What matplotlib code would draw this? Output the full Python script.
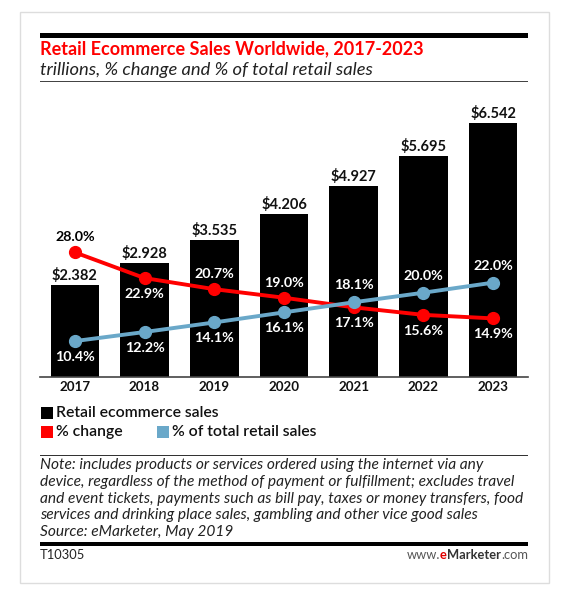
import matplotlib
matplotlib.use('Agg')
import matplotlib.pyplot as plt
from matplotlib.patches import Rectangle

# ---------------- data ----------------
years = ['2017', '2018', '2019', '2020', '2021', '2022', '2023']
sales = [2.382, 2.928, 3.535, 4.206, 4.927, 5.695, 6.542]
pct_change = [28.0, 22.9, 20.7, 19.0, 17.1, 15.6, 14.9]
pct_total = [10.4, 12.2, 14.1, 16.1, 18.1, 20.0, 22.0]
change_label_side = ['above', 'below', 'above', 'above', 'below', 'below', 'below']
total_label_side = ['below', 'below', 'below', 'below', 'above', 'above', 'above']

title = 'Retail Ecommerce Sales Worldwide, 2017-2023'
subtitle = 'trillions, % change and % of total retail sales'
legend_labels = ['Retail ecommerce sales', '% change', '% of total retail sales']
note_lines = [
    'Note: includes products or services ordered using the internet via any',
    'device, regardless of the method of payment or fulfillment; excludes travel',
    'and event tickets, payments such as bill pay, taxes or money transfers, food',
    'services and drinking place sales, gambling and other vice good sales',
    'Source: eMarketer, May 2019',
]
code = 'T10305'

RED = '#ff0000'
BLUE = '#6aa8c9'

W, H = 563, 600
FONT = ['Lato', 'DejaVu Sans']
plt.rcParams['font.family'] = FONT

fig = plt.figure(figsize=(W / 100, H / 100), dpi=100)
fig.patch.set_facecolor('white')
renderer = fig.canvas.get_renderer()


def fx(x):
    return x / W


def fy(y):
    return 1 - y / H


def size_for(text, target, **kw):
    t = fig.text(0, 0, text, fontsize=10, **kw)
    w = t.get_window_extent(renderer).width
    t.remove()
    return 10 * target / w


def text_width(text, fs, **kw):
    t = fig.text(0, 0, text, fontsize=fs, **kw)
    w = t.get_window_extent(renderer).width
    t.remove()
    return w


# ---------------- frame & rules ----------------
fig.patches.append(Rectangle((fx(20), fy(583)), (549 - 20) / W, (583 - 12) / H,
                             transform=fig.transFigure, fill=False,
                             edgecolor='#dddddd', linewidth=1.0))
fig.patches.append(Rectangle((fx(40), fy(37.5)), (528 - 40) / W, 5 / H,
                             transform=fig.transFigure, facecolor='black',
                             edgecolor='none'))
fig.patches.append(Rectangle((fx(40), fy(82)), (528 - 40) / W, 1.5 / H,
                             transform=fig.transFigure, facecolor='#444444',
                             edgecolor='none'))
fig.patches.append(Rectangle((fx(40), fy(456)), (528 - 40) / W, 1.5 / H,
                             transform=fig.transFigure, facecolor='#333333',
                             edgecolor='none'))
fig.patches.append(Rectangle((fx(40), fy(546)), (528 - 40) / W, 4 / H,
                             transform=fig.transFigure, facecolor='black',
                             edgecolor='none'))

# ---------------- titles ----------------
fs_title = size_for(title, 384, fontweight='bold')
fig.text(fx(40), fy(54.5), title, fontsize=fs_title, fontweight='bold',
         color=RED, ha='left', va='baseline')
fs_sub = size_for(subtitle, 333, fontstyle='italic')
fig.text(fx(40), fy(74.5), subtitle, fontsize=fs_sub, fontstyle='italic',
         color='#222222', ha='left', va='baseline')

# ---------------- chart ----------------
ax = fig.add_axes([fx(40), fy(377), (528 - 40) / W, (377 - 100) / H])
x = list(range(len(years)))
ax.bar(x, sales, width=0.695, color='black', zorder=1)
ax.set_xlim(-0.5, 6.5)
ax.set_ylim(0, 277 / 38.8)
for s in ['left', 'right', 'top']:
    ax.spines[s].set_visible(False)
ax.spines['bottom'].set_color('#444444')
ax.spines['bottom'].set_linewidth(1.2)
ax.set_yticks([])
fs_tick = size_for('2017', 31, fontweight='bold')
ax.set_xticks(x)
ax.set_xticklabels(years, fontsize=fs_tick, fontweight='bold', color='#111111')
ax.tick_params(axis='x', length=0, pad=3)

fs_val = size_for('$2.382', 46, fontweight='bold')
for xi, v in zip(x, sales):
    ax.annotate(f'${v:.3f}', (xi, v), xytext=(0, 5), textcoords='offset pixels',
                ha='center', va='baseline', fontsize=fs_val, fontweight='bold',
                color='#111111')

ax2 = ax.twinx()
ax2.set_ylim((393.5 - 377) / 5.04, (393.5 - 100) / 5.04)
for s in ax2.spines.values():
    s.set_visible(False)
ax2.set_yticks([])
ax2.plot(x, pct_change, color=RED, linewidth=2.8, marker='o', markersize=8.5,
         zorder=3, solid_capstyle='round')
ax2.plot(x, pct_total, color=BLUE, linewidth=2.8, marker='o', markersize=8.5,
         zorder=4, solid_capstyle='round')
ax2.set_ylim((393.5 - 377) / 5.04, (393.5 - 100) / 5.04)

fs_pct = size_for('22.9%', 40, fontweight='bold')
for xi, v, side in zip(x, pct_change, change_label_side):
    dy = 15 if side == 'above' else -16
    col = 'black' if xi == 0 else 'white'
    ax2.annotate(f'{v:.1f}%', (xi, v), xytext=(0, dy), textcoords='offset pixels',
                 ha='center', va='center', fontsize=fs_pct, fontweight='bold',
                 color=col, zorder=5)
for xi, v, side in zip(x, pct_total, total_label_side):
    dy = 17 if side == 'above' else -16
    ax2.annotate(f'{v:.1f}%', (xi, v), xytext=(0, dy), textcoords='offset pixels',
                 ha='center', va='center', fontsize=fs_pct, fontweight='bold',
                 color='white', zorder=5)

# ---------------- legend ----------------
fs_leg = size_for(legend_labels[0], 163, fontweight='semibold')
leg_items = [(41, 413, 'black', legend_labels[0]),
             (41, 432, RED, legend_labels[1]),
             (157, 432, BLUE, legend_labels[2])]
for lx, ly, col, lab in leg_items:
    fig.patches.append(Rectangle((fx(lx), fy(ly + 6)), 11.5 / W, 12 / H,
                                 transform=fig.transFigure, facecolor=col,
                                 edgecolor='none'))
    fig.text(fx(lx + 15), fy(ly), lab, fontsize=fs_leg, color='#111111',
             fontweight='semibold', ha='left', va='center')

# ---------------- notes ----------------
fs_note = size_for(note_lines[2], 484, fontstyle='italic')
for i, line in enumerate(note_lines):
    fig.text(fx(40), fy(469 + i * 16.75), line, fontsize=fs_note,
             fontstyle='italic', color='#222222', ha='left', va='baseline')

fs_code = size_for(code, 45)
fig.text(fx(40), fy(559), code, fontsize=fs_code, color='#222222',
         ha='left', va='baseline')

# www.eMarketer.com (right aligned, multi-colour)
parts = [('www.', '#555555', 'normal'), ('e', '#e00000', 'bold'),
         ('Marketer', '#333333', 'bold'), ('.com', '#555555', 'normal')]
total = sum(text_width(p, 10, fontweight=wt) for p, c, wt in parts)
fs_web = 10 * 121 / total
xr = 528
for p, c, wt in reversed(parts):
    w = text_width(p, fs_web, fontweight=wt)
    fig.text(fx(xr), fy(559), p, fontsize=fs_web, fontweight=wt, color=c,
             ha='right', va='baseline')
    xr -= w

fig.savefig('out.png', dpi=100, facecolor='white')
